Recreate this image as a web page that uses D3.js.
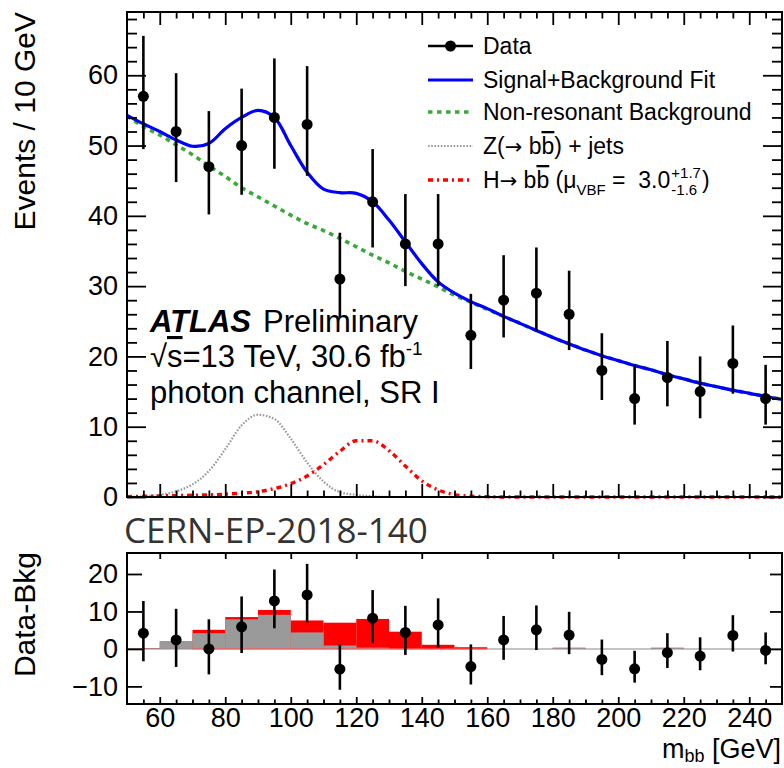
<!DOCTYPE html>
<html>
<head>
<meta charset="utf-8">
<script src="https://cdn.jsdelivr.net/npm/d3@7"></script>
<style>
  body { margin: 0; background: #fff; }
  svg { display: block; }
  text { font-family: "Liberation Sans", Arial, Helvetica, sans-serif; fill: #000; }
</style>
</head>
<body>
<svg id="chart" width="784" height="768"></svg>
<script>
// ---- m_bb spectrum, 10 GeV bins ----
const binCentres = [55, 65, 75, 85, 95, 105, 115, 125, 135, 145, 155, 165, 175, 185, 195, 205, 215, 225, 235, 245];
const dataCounts = [57, 52, 47, 50, 54, 53, 31, 42, 36, 36, 23, 28, 29, 26, 18, 14, 17, 15, 19, 14];
const errLow  = [7.5, 7.2, 6.8, 7.0, 7.3, 7.3, 5.5, 6.5, 6.0, 6.0, 4.8, 5.3, 5.4, 5.1, 4.2, 3.7, 4.1, 3.8, 4.3, 3.7];
const errHigh = [8.6, 8.3, 7.9, 8.1, 8.4, 8.3, 6.6, 7.5, 7.1, 7.1, 5.9, 6.4, 6.5, 6.2, 5.3, 4.8, 5.2, 5.0, 5.4, 4.8];
// data minus non-resonant background
const residuals = [4.2, 2.4, 0.0, 5.9, 12.8, 14.4, -5.4, 8.2, 4.4, 6.4, -4.7, 2.4, 5.1, 3.7, -2.8, -5.3, -1.0, -1.9, 3.6, -0.4];

// ---- fitted shapes sampled every 5 GeV from 50 to 250 ----
const curveMass = d3.range(50, 251, 5);
const fitCurve = [54.3, 53.1, 52.0, 50.8, 49.9, 50.3, 52.4, 54.0, 55.0, 54.0, 50.0, 46.2, 43.8, 43.3, 43.2, 42.0, 39.4, 36.3, 33.2, 30.6, 29.0,
                  27.8, 26.8, 25.7, 24.7, 23.7, 22.7, 21.8, 20.9, 20.1, 19.4, 18.7, 18.1, 17.4, 16.8, 16.2, 15.7, 15.2, 14.75, 14.3, 13.9];
const bkgCurve = [54.2, 52.7, 51.5, 50.1, 48.7, 47.1, 45.6, 44.0, 42.7, 41.4, 40.1, 38.9, 37.9, 36.8, 35.6, 34.4, 33.3, 32.1, 31.0, 29.9, 28.7,
                  27.7, 26.7, 25.7, 24.7, 23.7, 22.7, 21.8, 20.9, 20.1, 19.4, 18.7, 18.1, 17.4, 16.8, 16.2, 15.7, 15.2, 14.75, 14.3, 13.9];
const zCurve = [0.0, 0.1, 0.3, 0.8, 1.8, 3.7, 6.8, 10.2, 11.7, 11.1, 8.3, 4.9, 2.2, 0.7, 0.3, 0.1, 0, 0, 0, 0, 0,
                0, 0, 0, 0, 0, 0, 0, 0, 0, 0, 0, 0, 0, 0, 0, 0, 0, 0, 0, 0];
const hCurve = [0.05, 0.1, 0.15, 0.2, 0.25, 0.3, 0.4, 0.55, 0.75, 1.2, 1.9, 3.0, 4.6, 6.5, 8.0, 8.0, 6.6, 4.4, 2.3, 1.0, 0.35,
                0.1, 0.05, 0, 0, 0, 0, 0, 0, 0, 0, 0, 0, 0, 0, 0, 0, 0, 0, 0, 0];

// ---- binned resonant contributions for the lower panel (10 GeV bins from 50) ----
const binEdgesLow = [50, 60, 70, 80, 90, 100, 110, 120, 130, 140, 150, 160, 170, 180, 190, 200, 210, 220, 230, 240];
const zBinned = [0.2, 1.9, 4.2, 7.9, 9.1, 4.4, 0.9, 0.35, 0.05, 0, 0, 0, 0, 0.3, 0, 0, 0.3, 0, 0, 0];
const hBinned = [0.0, 0.1, 0.9, 0.6, 1.3, 3.2, 6.1, 7.65, 4.55, 1.1, 0.45, 0, 0, 0, 0, 0, 0, 0, 0, 0];

// ---- axis ticks ----
const xMajor = [60, 80, 100, 120, 140, 160, 180, 200, 220, 240];
const yTopMajor = [0, 10, 20, 30, 40, 50, 60];
const yBotMajor = [-10, 0, 10, 20];

const svg = d3.select("#chart");
const L = 127, R = 782;
const T1 = 12, B1 = 497, T2 = 553, B2 = 704;

const x = d3.scaleLinear().domain([50, 250]).range([L, R]);
const yTop = d3.scaleLinear().domain([0, 69]).range([B1, T1]);
const yBot = d3.scaleLinear().domain([-14.7, 25.6]).range([B2, T2]);

const xMinor = d3.range(55, 250, 5).filter(v => v % 20 !== 0);
const yTopMinor = d3.range(2, 69, 2).filter(v => v % 10 !== 0);

function styleAxis(g, size) {
  g.select(".domain").remove();
  g.selectAll(".tick line").attr("stroke", "#000").attr("stroke-width", 1.8);
  g.selectAll(".tick text").attr("font-size", size).attr("font-family", "Liberation Sans, Arial, sans-serif").attr("fill", "#000");
}

// ================= upper panel =================
const upper = svg.append("g");

const lineOf = (vals, curve) => d3.line()
  .x((d, i) => x(curveMass[i]))
  .y(d => yTop(d))
  .curve(curve)(vals);

upper.append("path").attr("d", lineOf(zCurve, d3.curveMonotoneX))
  .attr("fill", "none").attr("stroke", "#9a9a9a").attr("stroke-width", 2.2).attr("stroke-dasharray", "1.6,1.6");
upper.append("path").attr("d", lineOf(hCurve, d3.curveMonotoneX))
  .attr("fill", "none").attr("stroke", "#ff0000").attr("stroke-width", 3.4).attr("stroke-dasharray", "5,4,2,4");
upper.append("path").attr("d", lineOf(bkgCurve, d3.curveMonotoneX))
  .attr("fill", "none").attr("stroke", "#3aa83a").attr("stroke-width", 3.6).attr("stroke-dasharray", "4.5,4.5");
upper.append("path").attr("d", lineOf(fitCurve, d3.curveCatmullRom.alpha(0.5)))
  .attr("fill", "none").attr("stroke", "#0000ff").attr("stroke-width", 3.2);

// data points
const pts = upper.append("g");
binCentres.forEach((m, i) => {
  pts.append("line").attr("x1", x(m)).attr("x2", x(m))
    .attr("y1", yTop(dataCounts[i] - errLow[i])).attr("y2", yTop(dataCounts[i] + errHigh[i]))
    .attr("stroke", "#000").attr("stroke-width", 2.6);
  pts.append("circle").attr("cx", x(m)).attr("cy", yTop(dataCounts[i])).attr("r", 5.5).attr("fill", "#000");
});

// frame and ticks
upper.append("rect").attr("x", L).attr("y", T1).attr("width", R - L).attr("height", B1 - T1)
  .attr("fill", "none").attr("stroke", "#000").attr("stroke-width", 2);

upper.append("g").attr("transform", `translate(${L},0)`)
  .call(d3.axisLeft(yTop).tickValues(yTopMajor).tickSizeInner(-19).tickSizeOuter(0).tickPadding(9).tickFormat(d3.format("d")))
  .call(g => styleAxis(g, 27));
upper.append("g").attr("transform", `translate(${L},0)`)
  .call(d3.axisLeft(yTop).tickValues(yTopMinor).tickSizeInner(-10).tickSizeOuter(0).tickFormat(""))
  .call(g => styleAxis(g, 0));
upper.append("g").attr("transform", `translate(${R},0)`)
  .call(d3.axisRight(yTop).tickValues(yTopMajor).tickSizeInner(-19).tickSizeOuter(0).tickFormat(""))
  .call(g => styleAxis(g, 0));
upper.append("g").attr("transform", `translate(${R},0)`)
  .call(d3.axisRight(yTop).tickValues(yTopMinor).tickSizeInner(-10).tickSizeOuter(0).tickFormat(""))
  .call(g => styleAxis(g, 0));
upper.append("g").attr("transform", `translate(0,${B1})`)
  .call(d3.axisBottom(x).tickValues(xMajor).tickSizeInner(-13).tickSizeOuter(0).tickFormat(""))
  .call(g => styleAxis(g, 0));
upper.append("g").attr("transform", `translate(0,${B1})`)
  .call(d3.axisBottom(x).tickValues(xMinor).tickSizeInner(-6.5).tickSizeOuter(0).tickFormat(""))
  .call(g => styleAxis(g, 0));
upper.append("g").attr("transform", `translate(0,${T1})`)
  .call(d3.axisTop(x).tickValues(xMajor).tickSizeInner(-13).tickSizeOuter(0).tickFormat(""))
  .call(g => styleAxis(g, 0));
upper.append("g").attr("transform", `translate(0,${T1})`)
  .call(d3.axisTop(x).tickValues(xMinor).tickSizeInner(-6.5).tickSizeOuter(0).tickFormat(""))
  .call(g => styleAxis(g, 0));

// y title
svg.append("text").attr("transform", `translate(35,${T1}) rotate(-90)`)
  .attr("text-anchor", "end").attr("font-size", 30).text("Events / 10 GeV");

// legend
const leg = svg.append("g");
const rowY = [46, 80, 112, 146, 180];
const sx0 = 428, sx1 = 473, tx = 483, fs = 23;
leg.append("line").attr("x1", sx0).attr("x2", sx1).attr("y1", rowY[0]).attr("y2", rowY[0]).attr("stroke", "#000").attr("stroke-width", 2.4);
leg.append("circle").attr("cx", (sx0 + sx1) / 2).attr("cy", rowY[0]).attr("r", 5.5).attr("fill", "#000");
leg.append("line").attr("x1", sx0).attr("x2", sx1).attr("y1", rowY[1]).attr("y2", rowY[1]).attr("stroke", "#0000ff").attr("stroke-width", 3.2);
leg.append("line").attr("x1", sx0).attr("x2", sx1).attr("y1", rowY[2]).attr("y2", rowY[2]).attr("stroke", "#3aa83a").attr("stroke-width", 3.4).attr("stroke-dasharray", "4.5,4.5");
leg.append("line").attr("x1", sx0).attr("x2", sx1).attr("y1", rowY[3]).attr("y2", rowY[3]).attr("stroke", "#9a9a9a").attr("stroke-width", 2.2).attr("stroke-dasharray", "1.6,1.6");
leg.append("line").attr("x1", sx0).attr("x2", sx1).attr("y1", rowY[4]).attr("y2", rowY[4]).attr("stroke", "#ff0000").attr("stroke-width", 3.4).attr("stroke-dasharray", "5,4,2,4");

const legText = i => leg.append("text").attr("x", tx).attr("y", rowY[i] + 8).attr("font-size", fs);
const arrow = t => t.append("tspan").style("font-family", "'DejaVu Sans', sans-serif").attr("font-size", 21).text("\u2192");
legText(0).text("Data");
legText(1).text("Signal+Background Fit");
legText(2).text("Non-resonant Background");
const zt = legText(3);
zt.append("tspan").text("Z(");
arrow(zt);
zt.append("tspan").text(" b");
zt.append("tspan").style("text-decoration", "overline").text("b");
zt.append("tspan").text(") + jets");
const ht = legText(4);
ht.append("tspan").text("H");
arrow(ht);
ht.append("tspan").text(" b");
ht.append("tspan").style("text-decoration", "overline").text("b");
ht.append("tspan").text(" (\u03bc");
ht.append("tspan").attr("font-size", 15).attr("dy", 7).text("VBF");
ht.append("tspan").attr("dy", -7).text("\u00a0=\u00a0\u00a03.0");
const hw = ht.node().getComputedTextLength();
const supX = tx + hw + 1;
const sup = leg.append("text").attr("x", supX).attr("y", rowY[4] - 2).attr("font-size", 15).text("+1.7");
leg.append("text").attr("x", supX).attr("y", rowY[4] + 15).attr("font-size", 15).text("-1.6");
const sw = sup.node().getComputedTextLength();
leg.append("text").attr("x", supX + sw + 1).attr("y", rowY[4] + 8).attr("font-size", fs).text(")");

// experiment label
const lab = svg.append("g");
lab.append("text").attr("x", 150).attr("y", 332).attr("font-size", 31)
  .attr("font-weight", "bold").attr("font-style", "italic").text("ATLAS");
lab.append("text").attr("x", 263).attr("y", 332).attr("font-size", 31).text("Preliminary");
const l2 = lab.append("text").attr("x", 150).attr("y", 367).attr("font-size", 31);
l2.append("tspan").text("\u221a");
l2.append("tspan").style("text-decoration", "overline").text("s");
l2.append("tspan").text("=13 TeV, 30.6 fb");
l2.append("tspan").attr("font-size", 19).attr("dy", -12).text("-1");
lab.append("text").attr("x", 150).attr("y", 403).attr("font-size", 31).text("photon channel, SR I");

// ================= lower panel =================
const lower = svg.append("g");

// zero reference
lower.append("line").attr("x1", L).attr("x2", R).attr("y1", yBot(0)).attr("y2", yBot(0))
  .attr("stroke", "#c4c4c4").attr("stroke-width", 2);

// stacked resonant contributions: Z first, Higgs on top
const stacked = binEdgesLow.map((lo, i) => ({ lo, z: zBinned[i], zh: zBinned[i] + hBinned[i] }));
lower.selectAll("rect.h").data(stacked.filter(d => d.zh > 0)).join("rect").attr("class", "h")
  .attr("x", d => x(d.lo)).attr("width", d => x(d.lo + 10) - x(d.lo))
  .attr("y", d => yBot(d.zh)).attr("height", d => yBot(0) - yBot(d.zh))
  .attr("fill", "#ff0000");
lower.selectAll("rect.z").data(stacked.filter(d => d.z > 0)).join("rect").attr("class", "z")
  .attr("x", d => x(d.lo)).attr("width", d => x(d.lo + 10) - x(d.lo))
  .attr("y", d => yBot(d.z)).attr("height", d => yBot(0) - yBot(d.z))
  .attr("fill", "#9a9a9a");
// outline of the signal histogram along zero
lower.append("line").attr("x1", x(70)).attr("x2", x(160)).attr("y1", yBot(0)).attr("y2", yBot(0))
  .attr("stroke", "#ff5555").attr("stroke-width", 1);

// residual points
binCentres.forEach((m, i) => {
  lower.append("line").attr("x1", x(m)).attr("x2", x(m))
    .attr("y1", yBot(residuals[i] - errLow[i])).attr("y2", yBot(residuals[i] + errHigh[i]))
    .attr("stroke", "#000").attr("stroke-width", 2.6);
  lower.append("circle").attr("cx", x(m)).attr("cy", yBot(residuals[i])).attr("r", 5.5).attr("fill", "#000");
});

lower.append("rect").attr("x", L).attr("y", T2).attr("width", R - L).attr("height", B2 - T2)
  .attr("fill", "none").attr("stroke", "#000").attr("stroke-width", 2);

lower.append("g").attr("transform", `translate(${L},0)`)
  .call(d3.axisLeft(yBot).tickValues(yBotMajor).tickSizeInner(-15).tickSizeOuter(0).tickPadding(9))
  .call(g => styleAxis(g, 27));
lower.append("g").attr("transform", `translate(${R},0)`)
  .call(d3.axisRight(yBot).tickValues(yBotMajor).tickSizeInner(-12).tickSizeOuter(0).tickFormat(""))
  .call(g => styleAxis(g, 0));
lower.append("g").attr("transform", `translate(0,${B2})`)
  .call(d3.axisBottom(x).tickValues(xMajor).tickSizeInner(-7).tickSizeOuter(0).tickPadding(4))
  .call(g => styleAxis(g, 27));
lower.append("g").attr("transform", `translate(0,${B2})`)
  .call(d3.axisBottom(x).tickValues(xMinor).tickSizeInner(-4.5).tickSizeOuter(0).tickFormat(""))
  .call(g => styleAxis(g, 0));
lower.append("g").attr("transform", `translate(0,${T2})`)
  .call(d3.axisTop(x).tickValues(xMajor).tickSizeInner(-6).tickSizeOuter(0).tickFormat(""))
  .call(g => styleAxis(g, 0));

svg.append("text").attr("transform", `translate(35,${T2 - 1}) rotate(-90)`)
  .attr("text-anchor", "end").attr("font-size", 30).text("Data-Bkg");

const xt = svg.append("text").attr("x", R - 1).attr("y", 758).attr("text-anchor", "end").attr("font-size", 27);
xt.append("tspan").text("m");
xt.append("tspan").attr("font-size", 18).attr("dy", 4).text("bb");
xt.append("tspan").attr("dy", -4).text(" [GeV]");

// report number
svg.append("text").attr("x", 124).attr("y", 543)
  .style("font-family", "'Open Sans', 'Noto Sans', sans-serif").attr("font-size", 35).style("fill", "#333")
  .text("CERN-EP-2018-140");
</script>
</body>
</html>
